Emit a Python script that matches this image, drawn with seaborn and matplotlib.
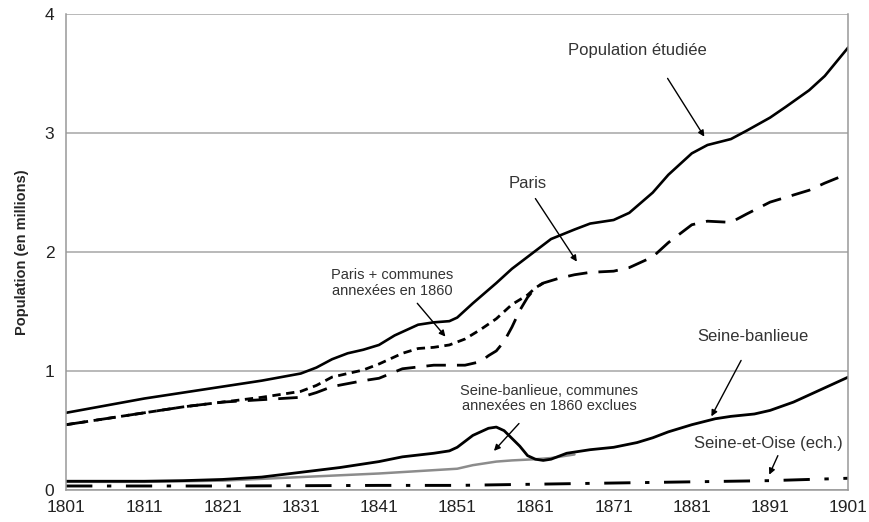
import pandas as pd
import seaborn as sns
import matplotlib.pyplot as plt

# values (millions)
etud_years = [1801, 1806, 1811, 1816, 1821, 1826, 1831, 1833, 1835, 1837, 1839, 1841, 1843, 1846, 1848, 1850,
              1851, 1853, 1856, 1858, 1861, 1863, 1866, 1868, 1871, 1873, 1876, 1878, 1881, 1883, 1886, 1888,
              1891, 1893, 1896, 1898, 1901]
etud_pop = [0.65, 0.71, 0.77, 0.82, 0.87, 0.92, 0.98, 1.03, 1.10, 1.15, 1.18, 1.22, 1.30, 1.39, 1.41, 1.42,
            1.45, 1.57, 1.74, 1.86, 2.01, 2.11, 2.19, 2.24, 2.27, 2.33, 2.50, 2.65, 2.83, 2.90, 2.95, 3.02,
            3.13, 3.22, 3.36, 3.48, 3.72]

paris_years = [1801, 1806, 1811, 1816, 1821, 1826, 1831, 1833, 1835, 1839, 1841, 1844, 1848, 1852, 1854, 1855,
               1856, 1857, 1858, 1859, 1860, 1861, 1862, 1864, 1866, 1868, 1871, 1873, 1876, 1878, 1881, 1883,
               1886, 1888, 1891, 1893, 1896, 1898, 1901]
paris_pop = [0.55, 0.60, 0.65, 0.70, 0.74, 0.76, 0.78, 0.82, 0.87, 0.92, 0.94, 1.02, 1.05, 1.05, 1.08, 1.13,
             1.17, 1.25, 1.37, 1.51, 1.62, 1.70, 1.74, 1.78, 1.81, 1.83, 1.84, 1.87, 1.96, 2.08, 2.23, 2.26,
             2.25, 2.32, 2.42, 2.46, 2.52, 2.58, 2.66]

annex_years = [1801, 1806, 1811, 1816, 1821, 1826, 1831, 1833, 1835, 1839, 1841, 1844, 1846, 1848, 1850, 1852,
               1854, 1856, 1858, 1860, 1861, 1862]
annex_pop = [0.55, 0.60, 0.65, 0.70, 0.74, 0.78, 0.83, 0.88, 0.95, 1.01, 1.06, 1.15, 1.19, 1.20, 1.22, 1.27,
             1.35, 1.44, 1.56, 1.64, 1.70, 1.74]

banl_years = [1801, 1806, 1811, 1816, 1821, 1826, 1831, 1836, 1839, 1841, 1844, 1848, 1850, 1851, 1853, 1855,
              1856, 1857, 1859, 1860, 1861, 1862, 1863, 1865, 1868, 1871, 1874, 1876, 1878, 1881, 1884, 1886,
              1889, 1891, 1894, 1896, 1898, 1901]
banl_pop = [0.075, 0.075, 0.075, 0.08, 0.09, 0.11, 0.15, 0.19, 0.22, 0.24, 0.28, 0.31, 0.33, 0.36, 0.46, 0.52,
            0.53, 0.50, 0.37, 0.29, 0.26, 0.25, 0.26, 0.31, 0.34, 0.36, 0.40, 0.44, 0.49, 0.55, 0.60, 0.62,
            0.64, 0.67, 0.74, 0.80, 0.86, 0.95]

excl_years = [1801, 1811, 1821, 1831, 1841, 1846, 1851, 1853, 1856, 1858, 1861, 1863, 1866]
excl_pop = [0.07, 0.07, 0.08, 0.11, 0.14, 0.16, 0.18, 0.21, 0.24, 0.25, 0.26, 0.27, 0.30]

oise_years = [1801, 1821, 1841, 1851, 1861, 1871, 1881, 1891, 1901]
oise_pop = [0.035, 0.035, 0.04, 0.04, 0.05, 0.06, 0.07, 0.08, 0.10]

sns.set_style("white")
plt.rcParams['font.family'] = ['Liberation Sans', 'DejaVu Sans']

fig = plt.figure(figsize=(8.7, 5.22), dpi=100)
ax = fig.add_axes([0.076, 0.061, 0.899, 0.912])

ax.yaxis.grid(True, color='#a6a6a6', linewidth=1.1)
ax.set_axisbelow(True)

sns.lineplot(x=etud_years, y=etud_pop, ax=ax, color='black', linewidth=1.9)
sns.lineplot(x=paris_years, y=paris_pop, ax=ax, color='black', linewidth=2.0)
ax.lines[-1].set_dashes((7, 4))
sns.lineplot(x=annex_years, y=annex_pop, ax=ax, color='black', linewidth=2.0)
ax.lines[-1].set_dashes((3, 2))
sns.lineplot(x=excl_years, y=excl_pop, ax=ax, color='#8c8c8c', linewidth=1.8)
sns.lineplot(x=banl_years, y=banl_pop, ax=ax, color='black', linewidth=2.0)
sns.lineplot(x=oise_years, y=oise_pop, ax=ax, color='black', linewidth=2.1)
ax.lines[-1].set_dashes((9, 5, 1.5, 5))

ax.set_xlim(1801, 1901)
ax.set_ylim(0, 4)
ax.set_xticks(range(1801, 1902, 10))
ax.set_yticks([0, 1, 2, 3, 4])
ax.tick_params(axis='both', labelsize=12.5, colors='#222222', length=5, width=1, direction='out')
ax.tick_params(axis='both', color='#999999')
ax.tick_params(axis='x', pad=2)
ax.set_xlabel('')
ax.set_ylabel('Population (en millions)', fontsize=10.5, fontweight='bold', labelpad=11)

for s in ['left', 'bottom', 'right']:
    ax.spines[s].set_visible(True)
    ax.spines[s].set_color('#999999')
    ax.spines[s].set_linewidth(1.1)
ax.spines['top'].set_visible(False)

arrow = dict(arrowstyle='-|>', color='black', linewidth=1.0, mutation_scale=9, shrinkA=0, shrinkB=0)
big = dict(fontsize=12, color='#333333', ha='center', va='center')
small = dict(fontsize=10.5, color='#333333', ha='center', va='center', linespacing=1.15)

ax.annotate('', xy=(1882.6, 2.97), xytext=(1877.9, 3.46), arrowprops=arrow)
ax.text(1874.0, 3.69, 'Population étudiée', **big)
ax.annotate('', xy=(1866.3, 1.92), xytext=(1861.0, 2.45), arrowprops=arrow)
ax.text(1860.0, 2.58, 'Paris', **big)
ax.annotate('', xy=(1849.5, 1.29), xytext=(1845.9, 1.57), arrowprops=arrow)
ax.text(1842.7, 1.74, 'Paris + communes\nannexées en 1860', **small)
ax.annotate('', xy=(1883.5, 0.62), xytext=(1887.3, 1.09), arrowprops=arrow)
ax.text(1888.8, 1.29, 'Seine-banlieue', **big)
ax.annotate('', xy=(1855.7, 0.33), xytext=(1858.9, 0.56), arrowprops=arrow)
ax.text(1862.8, 0.77, 'Seine-banlieue, communes\nannexées en 1860 exclues', **small)
ax.annotate('', xy=(1890.9, 0.13), xytext=(1892.0, 0.29), arrowprops=arrow)
ax.text(1890.8, 0.39, 'Seine-et-Oise (ech.)', **big)

plt.savefig('out.png', dpi=100)
